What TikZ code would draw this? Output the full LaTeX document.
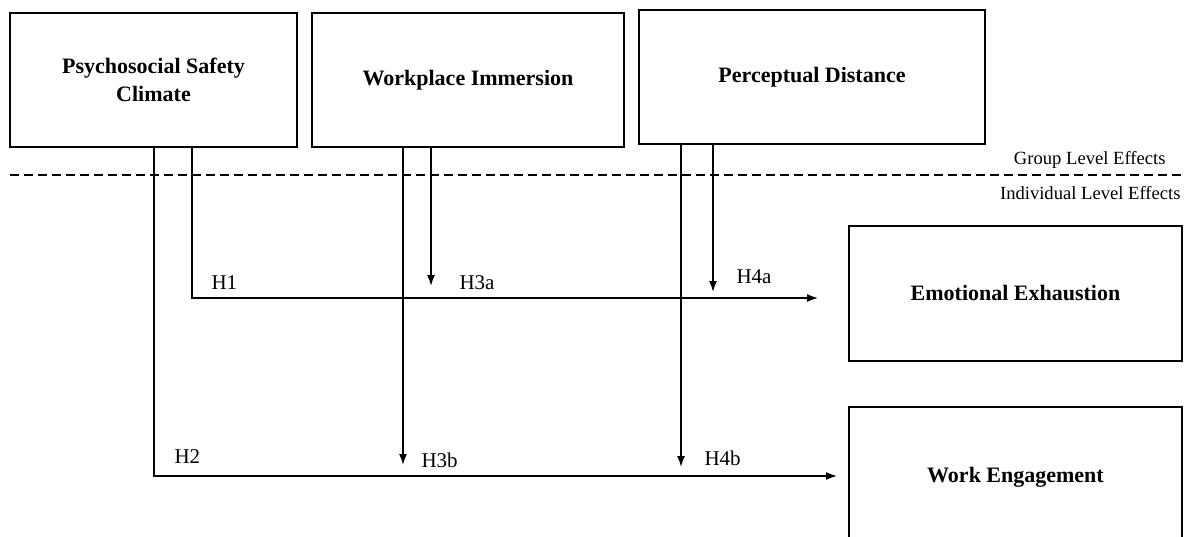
\documentclass[tikz,border=0pt]{standalone}
\usepackage{fontspec}
\setmainfont{Liberation Serif}
\usetikzlibrary{arrows.meta}

\begin{document}
\begin{tikzpicture}[x=1pt, y=-1pt,
    box/.style={draw, line width=1.3pt, align=center, inner sep=0pt,
        font=\fontsize{22}{28}\selectfont\bfseries},
    link/.style={line width=1.6pt, -{Latex[length=11pt, width=8pt]}},
    hlabel/.style={anchor=west, font=\fontsize{21}{24}\selectfont},
    levlabel/.style={anchor=east, font=\fontsize{18.6}{22}\selectfont}]
    % Fix the page size
    \useasboundingbox (0,0) rectangle (1190,537);

    % Group level boxes
    \node[box, minimum width=287pt, minimum height=134pt] (psc) at (153.5,80)
        {Psychosocial Safety\\Climate};
    \node[box, minimum width=312pt, minimum height=134pt] (wi) at (468,80)
        {Workplace Immersion};
    \node[box, minimum width=346pt, minimum height=134pt] (pd) at (812,77)
        {Perceptual Distance};

    % Individual level boxes
    \node[box, minimum width=333pt, minimum height=135pt] (ee) at (1015.5,293.5)
        {Emotional Exhaustion};
    \node[box, minimum width=333pt, minimum height=140pt] (we) at (1015.5,477)
        {\raisebox{3pt}{Work Engagement}};

    % Separator between the levels
    \coordinate (sepL) at (10,175);
    \coordinate (sepR) at (1185,175);
    \draw[line width=1.4pt, dash pattern=on 9pt off 5pt] (sepL) -- (sepR);
    \node[levlabel] (grp) at (1169,160) {Group Level Effects};
    \node[levlabel] (ind) at (1184,193) {Individual Level Effects};

    % Arrow ends
    \coordinate (h1) at (818,298);
    \coordinate (h2) at (837,476);
    \coordinate (h3a) at (431,286);
    \coordinate (h3b) at (403,465);
    \coordinate (h4a) at (713,292);
    \coordinate (h4b) at (681,467);

    % Direct effects
    \draw[link] ([xshift=38.5pt]psc.south) |- (h1);
    \draw[link] ([xshift=0.5pt]psc.south) |- (h2);

    % Moderating effects
    \draw[link] (wi.south -| h3a) -- (h3a);
    \draw[link] (wi.south -| h3b) -- (h3b);
    \draw[link] (pd.south -| h4a) -- (h4a);
    \draw[link] (pd.south -| h4b) -- (h4b);

    % Labels
    \node[hlabel] (lblH1) at (208,283) {H1};
    \node[hlabel] (lblH2) at (171,457) {H2};
    \node[hlabel] (lblH3a) at (456,283) {H3a};
    \node[hlabel] (lblH3b) at (418,460) {H3b};
    \node[hlabel] (lblH4a) at (733,277) {H4a};
    \node[hlabel] (lblH4b) at (701,458) {H4b};
\end{tikzpicture}
\end{document}
